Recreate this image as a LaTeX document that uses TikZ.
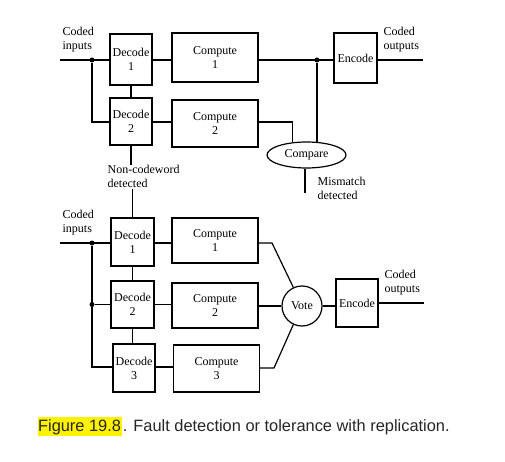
\documentclass[tikz,border=0pt]{standalone}
\usepackage{fontspec}
\setmainfont{Liberation Serif}
\newfontfamily\capfont{Liberation Sans}
\usetikzlibrary{shapes.geometric}
\begin{document}
\begin{tikzpicture}[x=1pt,y=-1pt,line width=1.2pt,
  blk/.style={draw,rectangle,inner sep=0pt,align=center,font=\fontsize{12}{14}\selectfont},
  lbl/.style={inner sep=0pt,align=left,font=\fontsize{12}{14}\selectfont},
  dot/.style={circle,fill,inner sep=0pt,minimum size=5pt}]
\useasboundingbox (0,0) rectangle (505,462);
% ---------- top: detection ----------
\coordinate (r1) at (0,60);
\coordinate (r2) at (0,122);
\node[blk,minimum width=42,minimum height=51] (dec1) at (131,59.5) {Decode\\1};
\node[blk,minimum width=42,minimum height=47] (dec2) at (131,121.5) {Decode\\2};
\node[blk,minimum width=86,minimum height=49] (comp1) at (215,57.5) {Compute\\1};
\node[blk,minimum width=86,minimum height=47] (comp2) at (215,123.5) {Compute\\2};
\node[blk,minimum width=43,minimum height=50] (enc1) at (355.5,58) {Encode};
\node[draw,ellipse,minimum width=79,minimum height=26,inner sep=0pt,font=\fontsize{12}{14}\selectfont] (cmp) at (306.5,155) {Compare};
\coordinate (in1) at (60,60);
\node[dot] (d1) at (92,60) {};
\coordinate (out1) at (423,60);
\coordinate (mm) at (305,193);
\node[lbl,anchor=south west] (ci1) at (62,53) {Coded\\inputs};
\node[lbl,anchor=south west] (co1) at (383,53) {Coded\\outputs};
\node[lbl,anchor=west] (mml) at (317,188) {Mismatch\\detected};
\node[lbl,anchor=north west] (nc) at (107,165) {Non-codeword\\detected};
\draw (in1) -- (dec1.west |- r1);
\draw (d1) |- (dec2.west |- r2);
\draw (dec1.south) -- (dec2.north);
\draw (dec1.east |- r1) -- (comp1.west |- r1);
\draw (dec2.east |- r2) -- (comp2.west |- r2);
\draw (comp1.east |- r1) -- (enc1.west |- r1);
\draw (enc1.east |- r1) -- (out1);
\draw (comp2.east |- r2) -| (cmp.138);
\node[dot] (d2) at (317,60) {};
\draw (d2) -- (d2 |- cmp.50);
\draw (cmp.south -| mm) -- (mm);
\draw (dec2.south) -- (dec2.south |- nc.north);
% ---------- bottom: tolerance ----------
\coordinate (b1) at (0,243);
\coordinate (b2) at (0,304.5);
\coordinate (b3) at (0,367);
\node[blk,minimum width=43,minimum height=48] (bdec1) at (132.5,242) {Decode\\1};
\node[blk,minimum width=43,minimum height=47] (bdec2) at (132.5,304.5) {Decode\\2};
\node[blk,minimum width=42,minimum height=48] (bdec3) at (134,368) {Decode\\3};
\node[blk,minimum width=86,minimum height=45] (bcomp1) at (215,240.5) {Compute\\1};
\node[blk,minimum width=86,minimum height=45] (bcomp2) at (215,305.5) {Compute\\2};
\node[blk,minimum width=86,minimum height=47] (bcomp3) at (216.5,368.5) {Compute\\3};
\node[draw,circle,minimum size=40,inner sep=0pt,font=\fontsize{12}{14}\selectfont] (vote) at (302,306) {Vote};
\node[blk,minimum width=42,minimum height=48] (benc) at (357,303) {Encode};
\coordinate (bin) at (60,243);
\node[dot] (bd1) at (92,243) {};
\node[dot] (bd2) at (92,304.5) {};
\coordinate (k1) at (272,243);
\coordinate (k3) at (274,368);
\coordinate (bout) at (424,303);
\node[lbl,anchor=south west] (ci2) at (62,236) {Coded\\inputs};
\node[lbl,anchor=south west] (co2) at (384,296) {Coded\\outputs};
\draw (bdec1.north |- nc.south) -- (bdec1.north);
\draw (bin) -- (bdec1.west |- b1);
\draw (bd1) |- (bdec3.west |- b3);
\draw (bd2) -- (bdec2.west |- b2);
\draw (bdec1.south) -- (bdec1.south |- bdec2.north);
\draw (bdec2.south) -- (bdec2.south |- bdec3.north);
\draw (bdec1.east |- b1) -- (bcomp1.west |- b1);
\draw (bdec2.east |- b2) -- (bcomp2.west |- b2);
\draw (bdec3.east |- b3) -- (bcomp3.west |- b3);
\draw (bcomp1.east |- b1) -- (k1) -- (vote.115);
\draw (bcomp2.east |- vote.west) -- (vote.west);
\draw (bcomp3.east |- k3) -- (k3) -- (vote.245);
\draw (vote.east) -- (benc.west |- vote.east);
\draw (benc.east |- bout) -- (bout);
% ---------- caption ----------
\node[anchor=base west,inner xsep=0.5pt,inner ysep=2pt,fill=yellow,font=\capfont\fontsize{16.4}{19}\selectfont,text=black!85] (fig) at (37,431) {Figure 19.8};
\node[anchor=base west,inner sep=0pt,font=\capfont\fontsize{16.4}{19}\selectfont,text=black!85] (cap) at (fig.base east) {. Fault detection or tolerance with replication.};
\end{tikzpicture}
\end{document}
